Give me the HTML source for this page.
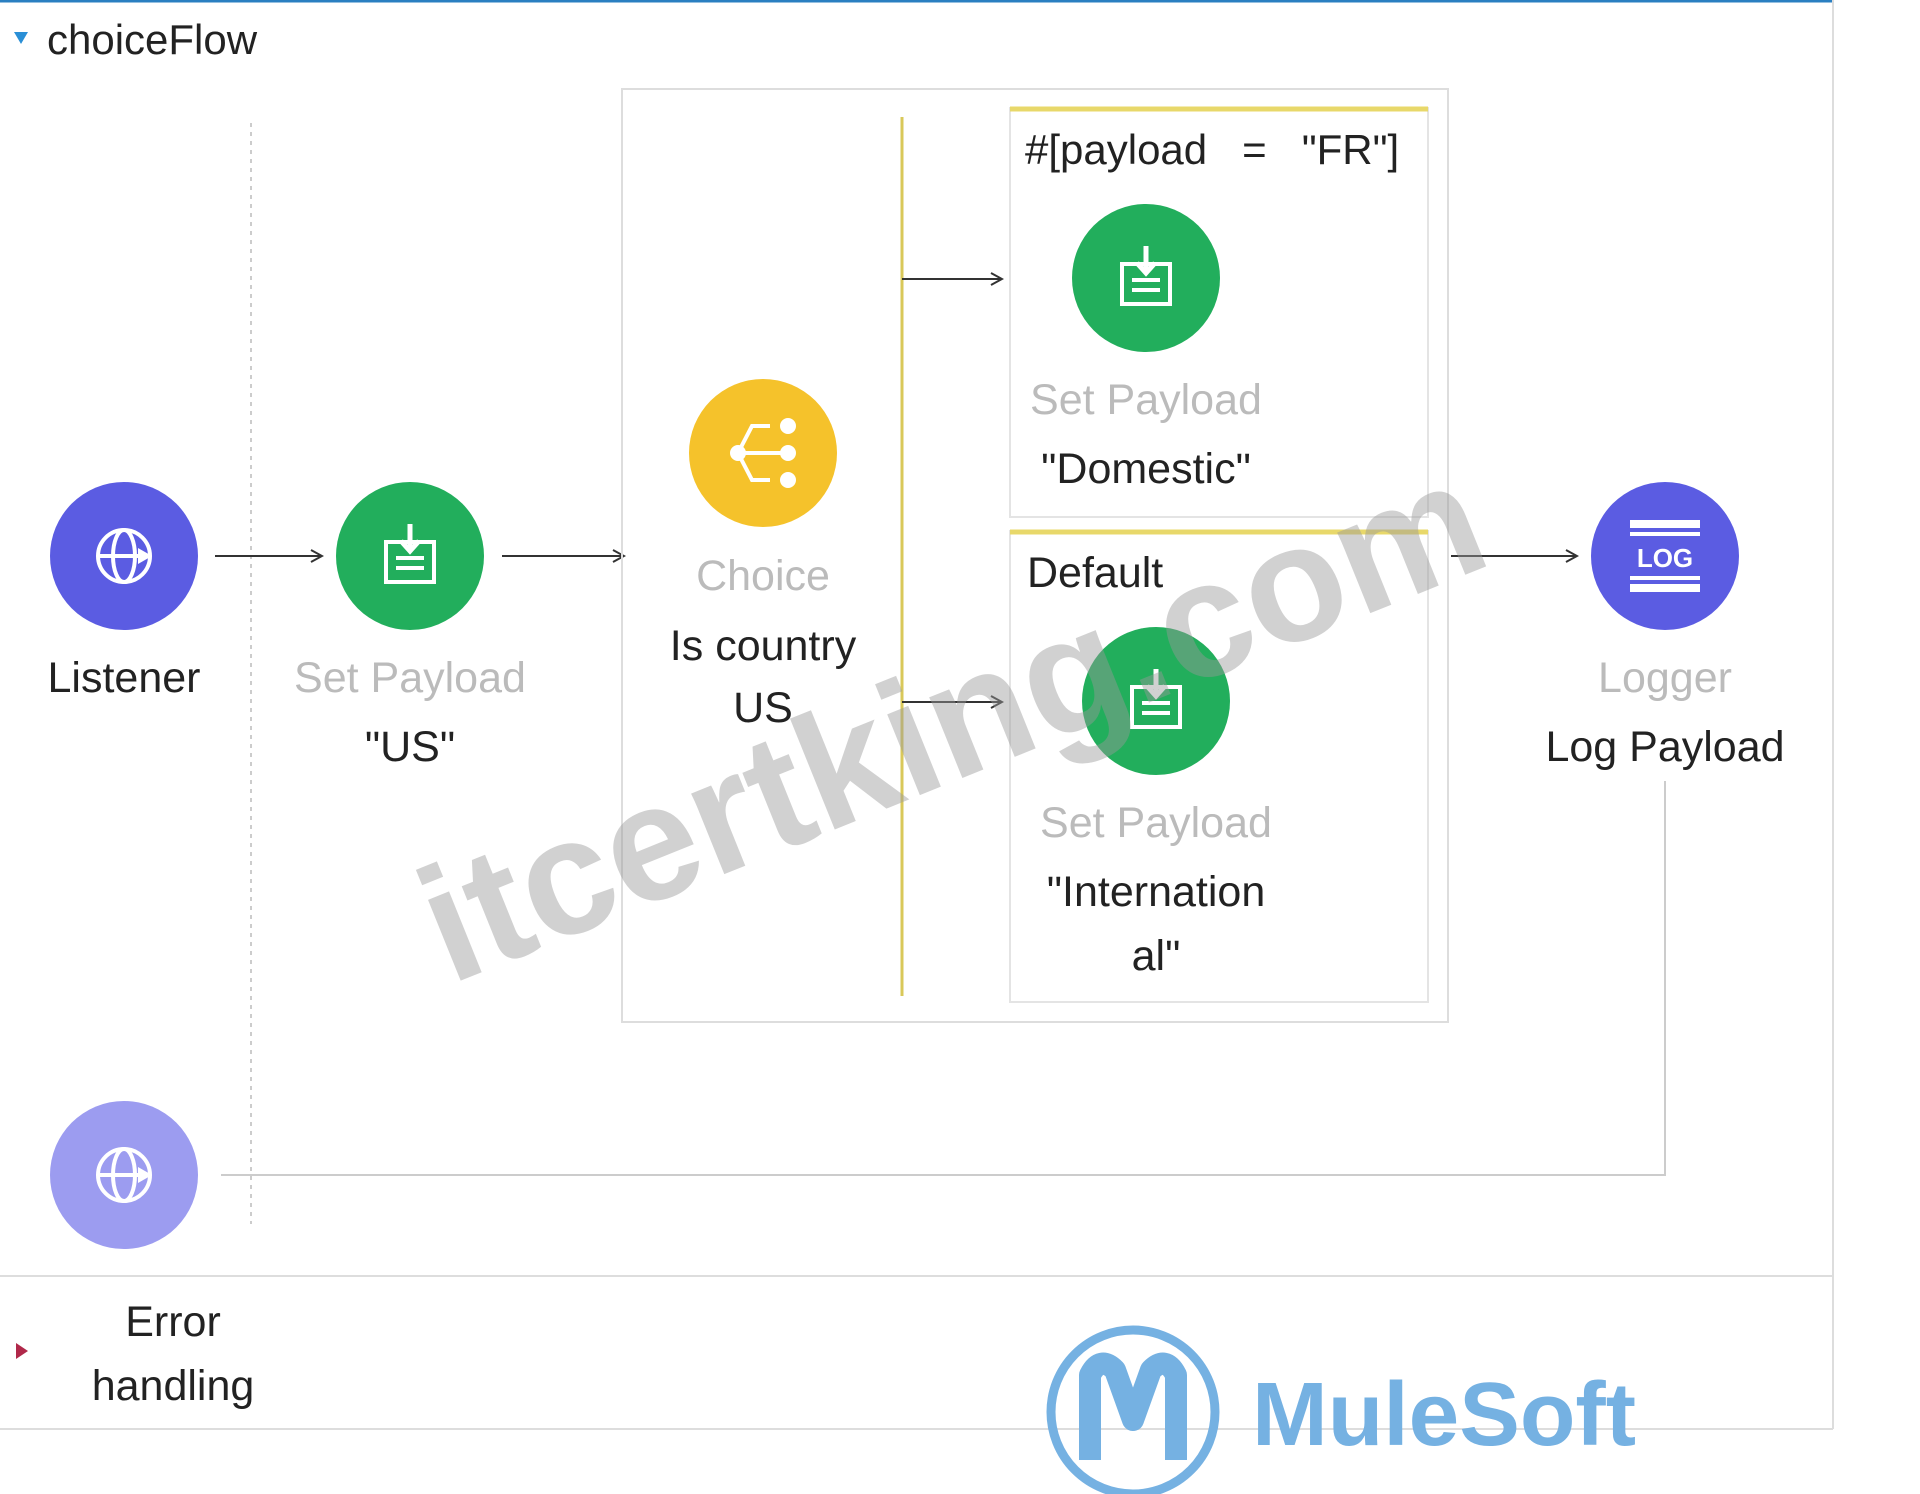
<!DOCTYPE html>
<html><head><meta charset="utf-8"><style>
html,body{margin:0;padding:0;background:#fff;}
svg{display:block}
text{font-family:"Liberation Sans",sans-serif;}
</style></head><body>
<svg width="1920" height="1494" viewBox="0 0 1920 1494" xmlns="http://www.w3.org/2000/svg">
<defs>
<marker id="ar" markerWidth="14" markerHeight="14" refX="12" refY="7" orient="auto" markerUnits="userSpaceOnUse">
<path d="M1,1 L12,7 L1,13" fill="none" stroke="#333" stroke-width="2"/>
</marker>
<g id="sp">
<rect x="-24" y="-18" width="48" height="40" fill="none" stroke="#fff" stroke-width="4"/>
<line x1="-14" y1="-2" x2="14" y2="-2" stroke="#fff" stroke-width="4"/>
<line x1="-14" y1="8" x2="14" y2="8" stroke="#fff" stroke-width="4"/>
<path d="M0,-36 L0,-10 M-9,-19 L0,-9 L9,-19" fill="none" stroke="#fff" stroke-width="5"/>
</g>
<g id="gl">
<circle r="26" fill="none" stroke="#fff" stroke-width="4"/>
<ellipse rx="11" ry="26" fill="none" stroke="#fff" stroke-width="4"/>
<line x1="-26" y1="0" x2="26" y2="0" stroke="#fff" stroke-width="4"/>
<path d="M14,-8 L28,0 L14,8 Z" fill="#fff"/>
</g>
</defs>
<rect width="1920" height="1494" fill="#fff"/>
<line x1="0" y1="1" x2="1833" y2="1" stroke="#2a7fc1" stroke-width="3"/>
<line x1="1833" y1="0" x2="1833" y2="1429" stroke="#ddd" stroke-width="2"/>
<line x1="0" y1="1276" x2="1833" y2="1276" stroke="#ddd" stroke-width="2"/>
<line x1="0" y1="1429" x2="1833" y2="1429" stroke="#ddd" stroke-width="2"/>
<path d="M14,32 L28,32 L21,44 Z" fill="#2a8fd6"/>
<text x="47" y="54" font-size="42" fill="#222">choiceFlow</text>
<line x1="251" y1="123" x2="251" y2="1224" stroke="#ccc" stroke-width="2" stroke-dasharray="4,5"/>

<circle cx="124" cy="556" r="74" fill="#5b5ce2"/>
<use href="#gl" x="124" y="556"/>
<text x="124" y="692" font-size="43" fill="#222" text-anchor="middle">Listener</text>
<line x1="215" y1="556" x2="322" y2="556" stroke="#333" stroke-width="2" marker-end="url(#ar)"/>

<circle cx="410" cy="556" r="74" fill="#22ae5c"/>
<use href="#sp" x="410" y="560"/>
<text x="410" y="692" font-size="43" fill="#bbb" text-anchor="middle">Set Payload</text>
<text x="410" y="761" font-size="43" fill="#222" text-anchor="middle">"US"</text>
<line x1="502" y1="556" x2="624" y2="556" stroke="#333" stroke-width="2" marker-end="url(#ar)"/>

<rect x="622" y="89" width="826" height="933" fill="none" stroke="#ddd" stroke-width="2"/>
<circle cx="763" cy="453" r="74" fill="#f5c22b"/>
<g stroke="#fff" stroke-width="4" fill="#fff">
<line x1="738" y1="453" x2="788" y2="453"/><path d="M770,426 L752,426 L738,453 L752,480 L770,480" fill="none"/>
<circle cx="738" cy="453" r="6"/><circle cx="788" cy="426" r="6"/><circle cx="788" cy="453" r="6"/><circle cx="788" cy="480" r="6"/>
</g>
<text x="763" y="590" font-size="43" fill="#bbb" text-anchor="middle">Choice</text>
<text x="763" y="660" font-size="43" fill="#222" text-anchor="middle">Is country</text>
<text x="763" y="722" font-size="43" fill="#222" text-anchor="middle">US</text>
<line x1="902" y1="117" x2="902" y2="996" stroke="#d9c85a" stroke-width="3"/>
<line x1="902" y1="279" x2="1002" y2="279" stroke="#333" stroke-width="2" marker-end="url(#ar)"/>
<line x1="902" y1="702" x2="1002" y2="702" stroke="#333" stroke-width="2" marker-end="url(#ar)"/>

<rect x="1010" y="108" width="418" height="409" fill="none" stroke="#e4e4e4" stroke-width="2"/>
<line x1="1010" y1="109" x2="1428" y2="109" stroke="#e8d86a" stroke-width="5"/>
<text x="1025" y="164" font-size="42" fill="#222" xml:space="preserve">#[payload   =   "FR"]</text>
<circle cx="1146" cy="278" r="74" fill="#22ae5c"/>
<use href="#sp" x="1146" y="282"/>
<text x="1146" y="414" font-size="43" fill="#bbb" text-anchor="middle">Set Payload</text>
<text x="1146" y="483" font-size="43" fill="#222" text-anchor="middle">"Domestic"</text>

<rect x="1010" y="531" width="418" height="471" fill="none" stroke="#e4e4e4" stroke-width="2"/>
<line x1="1010" y1="532" x2="1428" y2="532" stroke="#e8d86a" stroke-width="5"/>
<text x="1027" y="587" font-size="43" fill="#222">Default</text>
<circle cx="1156" cy="701" r="74" fill="#22ae5c"/>
<use href="#sp" x="1156" y="705"/>
<text x="1156" y="837" font-size="43" fill="#bbb" text-anchor="middle">Set Payload</text>
<text x="1156" y="906" font-size="43" fill="#222" text-anchor="middle">"Internation</text>
<text x="1156" y="970" font-size="43" fill="#222" text-anchor="middle">al"</text>

<line x1="1451" y1="556" x2="1577" y2="556" stroke="#333" stroke-width="2" marker-end="url(#ar)"/>
<circle cx="1665" cy="556" r="74" fill="#5b5ce2"/>
<g fill="#fff"><rect x="1630" y="520" width="70" height="8"/><rect x="1630" y="584" width="70" height="8"/><rect x="1630" y="532" width="70" height="4"/><rect x="1630" y="576" width="70" height="4"/></g>
<text x="1665" y="567" font-size="26" fill="#fff" text-anchor="middle" font-weight="bold">LOG</text>
<text x="1665" y="692" font-size="43" fill="#bbb" text-anchor="middle">Logger</text>
<text x="1665" y="761" font-size="43" fill="#222" text-anchor="middle">Log Payload</text>
<path d="M1665,781 L1665,1175 L221,1175" fill="none" stroke="#ccc" stroke-width="2"/>

<circle cx="124" cy="1175" r="74" fill="#9c9cf0"/>
<use href="#gl" x="124" y="1175"/>

<path d="M16,1343 L28,1351 L16,1359 Z" fill="#b0284a"/>
<text x="173" y="1336" font-size="43" fill="#222" text-anchor="middle">Error</text>
<text x="173" y="1400" font-size="43" fill="#222" text-anchor="middle">handling</text>

<circle cx="1133" cy="1412" r="82" fill="none" stroke="#75b1e2" stroke-width="9"/>
<path d="M1090,1460 L1090,1375 Q1100,1355 1115,1370 L1133,1420 L1151,1370 Q1166,1355 1176,1375 L1176,1460" fill="none" stroke="#75b1e2" stroke-width="22" stroke-linejoin="round"/>
<text x="1252" y="1445" font-size="90" fill="#75b1e2" font-weight="bold" textLength="384" lengthAdjust="spacingAndGlyphs">MuleSoft</text>

<text x="450" y="985" font-size="165" font-weight="bold" fill="#9a9a9a" fill-opacity="0.45" transform="rotate(-22 450 985)">itcertking.com</text>
</svg>
</body></html>
